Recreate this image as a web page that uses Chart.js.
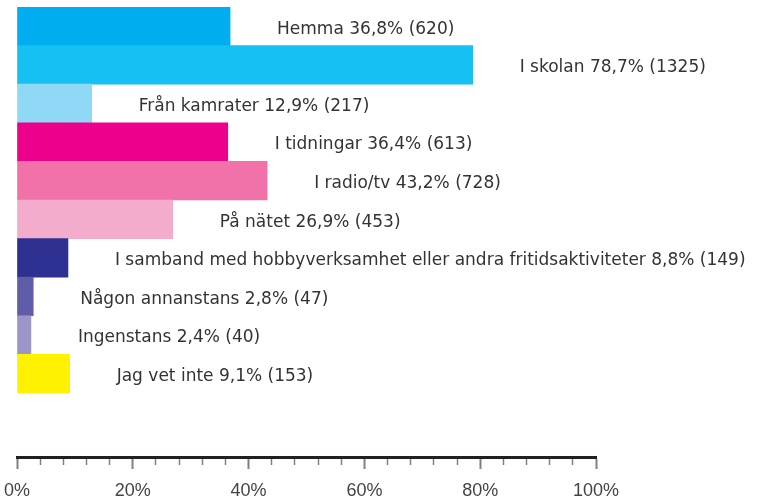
<!DOCTYPE html>
<html>
<head>
<meta charset="utf-8">
<script src="https://cdn.jsdelivr.net/npm/chart.js@4/dist/chart.umd.min.js"></script>
<style>
  body { margin: 0; background: #fff; }
  #wrap { width: 757px; height: 500px; }
</style>
</head>
<body>
<div id="wrap"><canvas id="chart"></canvas></div>
<script>
const categories = ['Hemma', 'I skolan', 'Från kamrater', 'I tidningar', 'I radio/tv', 'På nätet',
  'I samband med hobbyverksamhet eller andra fritidsaktiviteter', 'Någon annanstans', 'Ingenstans', 'Jag vet inte'];
const percents = [36.8, 78.7, 12.9, 36.4, 43.2, 26.9, 8.8, 2.8, 2.4, 9.1];
const counts = [620, 1325, 217, 613, 728, 453, 149, 47, 40, 153];
const barColors = ['#00adee', '#17c0f2', '#8fd8f6', '#ec008c', '#f072a8', '#f4accd',
  '#2e3192', '#605ca8', '#9c96c8', '#fff200'];
const tickLabels = [0, 20, 40, 60, 80, 100];

// text to the right of each bar
const labelPlugin = {
  id: 'barLabels',
  afterDatasetsDraw(chart) {
    const ctx = chart.ctx;
    const meta = chart.getDatasetMeta(0);
    ctx.save();
    ctx.font = '17px "DejaVu Sans"';
    ctx.fillStyle = '#333';
    ctx.textBaseline = 'middle';
    ctx.textAlign = 'left';
    meta.data.forEach((bar, i) => {
      const txt = categories[i] + ' ' + percents[i].toFixed(1).replace('.', ',') + '% (' + counts[i] + ')';
      ctx.fillText(txt, bar.x + 47, bar.y + 3);
    });
    ctx.restore();
  }
};

const isMajor = c => c.tick && tickLabels.includes(c.tick.value);

new Chart(document.getElementById('chart'), {
  type: 'bar',
  data: {
    datasets: [{
      data: percents.map((p, i) => ({ x: p, y: i })),
      backgroundColor: barColors,
      borderWidth: 0,
      barPercentage: 1,
      categoryPercentage: 1
    }]
  },
  options: {
    indexAxis: 'y',
    responsive: true,
    maintainAspectRatio: false,
    animation: false,
    layout: { padding: { left: 17, right: 161, top: 7, bottom: 0 } },
    plugins: { legend: { display: false }, tooltip: { enabled: false } },
    scales: {
      y: {
        type: 'linear',
        min: -0.5,
        max: 11.16,
        offset: false,
        reverse: true,
        display: false,
        afterBuildTicks: s => { s.ticks = categories.map((c, i) => ({ value: i })); }
      },
      x: {
        min: 0,
        max: 100,
        afterFit: s => { s.height = 43; s.paddingLeft = 0; s.paddingRight = 0; },
        border: { display: true, width: 3, color: '#231f20' },
        grid: {
          drawOnChartArea: false,
          tickLength: 12,
          tickColor: '#808080',
          tickWidth: c => isMajor(c) ? 2 : 1.5,
          tickBorderDash: c => isMajor(c) ? [] : [6, 40]
        },
        ticks: {
          stepSize: 4,
          autoSkip: false,
          maxRotation: 0,
          padding: 11,
          color: '#444',
          font: { family: '"Liberation Sans"', size: 18 },
          callback: v => tickLabels.includes(v) ? v + '%' : ''
        }
      }
    }
  },
  plugins: [labelPlugin]
});
</script>
</body>
</html>
